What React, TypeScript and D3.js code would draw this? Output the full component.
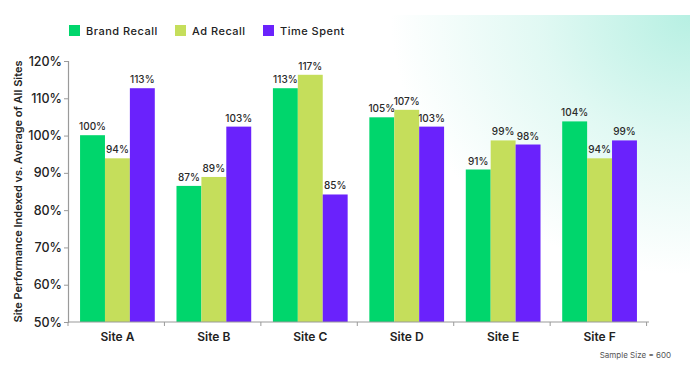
import { useEffect, useRef } from 'react'
import * as d3 from 'd3'

const sites = ['Site A', 'Site B', 'Site C', 'Site D', 'Site E', 'Site F']
const seriesNames = ['Brand Recall', 'Ad Recall', 'Time Spent']
const seriesColors = ['#00d66c', '#c5de5b', '#6a22fc']

// bar heights, labels as printed
const brandRecall = [100.1, 86.5, 112.7, 104.9, 90.9, 103.8]
const adRecall = [93.9, 88.9, 116.3, 106.9, 98.7, 93.9]
const timeSpent = [112.7, 102.4, 84.2, 102.4, 97.6, 98.7]
const brandLabels = ['100%', '87%', '113%', '105%', '91%', '104%']
const adLabels = ['94%', '89%', '117%', '107%', '99%', '94%']
const timeLabels = ['113%', '103%', '85%', '103%', '98%', '99%']

const yTicks = [50, 60, 70, 80, 90, 100, 110, 120]

const FONT = 'Inter, "Noto Sans", sans-serif'

export default function App() {
  const svgRef = useRef<SVGSVGElement>(null)

  useEffect(() => {
    if (!svgRef.current) return
    const svg = d3.select(svgRef.current)
    svg.selectAll('*').remove()

    const width = 700
    const height = 375
    const margin = { top: 61, right: 51, bottom: 53, left: 68 }
    const innerWidth = width - margin.left - margin.right
    const innerHeight = height - margin.top - margin.bottom

    // soft teal wash in the top right corner
    const defs = svg.append('defs')
    const grad = defs
      .append('radialGradient')
      .attr('id', 'wash')
      .attr('cx', 1)
      .attr('cy', 0)
      .attr('r', 1)
    grad.append('stop').attr('offset', 0).attr('stop-color', '#b3efe1').attr('stop-opacity', 0.95)
    grad.append('stop').attr('offset', 0.5).attr('stop-color', '#b3efe1').attr('stop-opacity', 0.4)
    grad.append('stop').attr('offset', 1).attr('stop-color', '#b3efe1').attr('stop-opacity', 0)
    svg
      .append('rect')
      .attr('x', 390)
      .attr('y', 15)
      .attr('width', 300)
      .attr('height', 260)
      .attr('fill', 'url(#wash)')

    const g = svg
      .append('g')
      .attr('transform', `translate(${margin.left},${margin.top})`)

    const x0 = d3
      .scaleBand<string>()
      .domain(sites)
      .range([0, innerWidth])
      .paddingInner(0.225)
      .paddingOuter(0.125)

    const x1 = d3
      .scaleBand<number>()
      .domain([0, 1, 2])
      .range([0, x0.bandwidth()])

    const y = d3.scaleLinear().domain([50, 120]).range([innerHeight, 0])

    const series = [brandRecall, adRecall, timeSpent]
    const labels = [brandLabels, adLabels, timeLabels]

    // bars
    sites.forEach((site, i) => {
      const grp = g.append('g').attr('transform', `translate(${x0(site)},0)`)
      series.forEach((vals, s) => {
        grp
          .append('rect')
          .attr('x', x1(s)!)
          .attr('y', y(vals[i]))
          .attr('width', x1.bandwidth())
          .attr('height', innerHeight - y(vals[i]))
          .attr('fill', seriesColors[s])
        grp
          .append('text')
          .attr('x', x1(s)! + x1.bandwidth() / 2)
          .attr('y', y(vals[i]) - 5)
          .attr('text-anchor', 'middle')
          .attr('fill', '#2a2a2a')
          .style('font-family', FONT)
          .style('font-size', '10px')
          .style('font-weight', 500)
          .text(labels[s][i])
      })
    })

    // Y axis
    const yAxis = g
      .append('g')
      .call(
        d3
          .axisLeft(y)
          .tickValues(yTicks)
          .tickSize(4)
          .tickFormat((d) => `${d}%`)
      )
    yAxis.select('.domain').attr('stroke', '#9a9a9a').attr('stroke-width', 1.2)
    yAxis.selectAll('.tick line').attr('stroke', '#9a9a9a')
    yAxis
      .selectAll('text')
      .attr('fill', '#222')
      .attr('x', -6)
      .style('font-family', FONT)
      .style('font-size', '12.5px')
      .style('font-weight', 500)

    // X axis, ticks on band edges
    const xAxis = g.append('g').attr('transform', `translate(0,${innerHeight})`)
    xAxis
      .append('line')
      .attr('x1', 0)
      .attr('x2', innerWidth)
      .attr('stroke', '#9a9a9a')
      .attr('stroke-width', 1.2)
    const step = x0.step()
    d3.range(sites.length + 1).forEach((k) => {
      xAxis
        .append('line')
        .attr('x1', k * step)
        .attr('x2', k * step)
        .attr('y1', 0)
        .attr('y2', 4)
        .attr('stroke', '#9a9a9a')
    })
    sites.forEach((site) => {
      xAxis
        .append('text')
        .attr('x', x0(site)! + x0.bandwidth() / 2)
        .attr('y', 19)
        .attr('text-anchor', 'middle')
        .attr('fill', '#222')
        .style('font-family', FONT)
        .style('font-size', '12px')
        .style('font-weight', 600)
        .text(site)
    })

    // Y axis title
    svg
      .append('text')
      .attr('transform', `translate(22,${margin.top + innerHeight / 2}) rotate(-90)`)
      .attr('text-anchor', 'middle')
      .attr('fill', '#222')
      .style('font-family', FONT)
      .style('font-size', '11px')
      .style('font-weight', 600)
      .text('Site Performance Indexed vs. Average of All Sites')

    // legend
    const legendX = [69, 175, 263]
    seriesNames.forEach((name, s) => {
      const lg = svg.append('g').attr('transform', `translate(${legendX[s]},25)`)
      lg.append('rect').attr('width', 11).attr('height', 11).attr('fill', seriesColors[s])
      lg.append('text')
        .attr('x', 17)
        .attr('y', 10)
        .attr('fill', '#222')
        .style('font-family', FONT)
        .style('font-size', '11px')
        .style('font-weight', 500)
        .style('letter-spacing', '0.5px')
        .text(name)
    })

    // footnote
    svg
      .append('text')
      .attr('x', 671)
      .attr('y', 358)
      .attr('text-anchor', 'end')
      .attr('fill', '#555')
      .style('font-family', FONT)
      .style('font-size', '8px')
      .text('Sample Size = 600')
  }, [])

  return (
    <svg
      ref={svgRef}
      width={700}
      height={375}
      style={{ position: 'absolute', left: 0, top: 0, background: '#fff', display: 'block' }}
    />
  )
}
